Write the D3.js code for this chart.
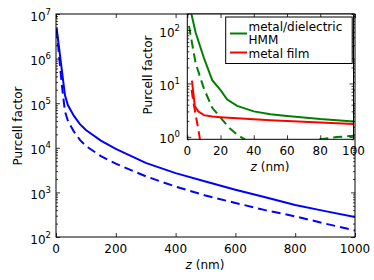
<!DOCTYPE html>
<html><head><meta charset="utf-8">
<script src="https://cdn.jsdelivr.net/npm/d3@7"></script>
<style>body{margin:0;background:#fff}svg{display:block}text{font-family:"DejaVu Sans",sans-serif;fill:#000}</style>
</head><body><svg id="c" width="374" height="280"></svg>
<script>
// ---- main plot data ----
const mainZ = [2, 10, 20, 30, 40, 60, 80, 100, 150, 200, 300, 400, 500, 600, 700, 800, 900, 1000];
const mainSolid = [4.8e6, 1.8e6, 5.2e5, 1.5e5, 9.0e4, 5.2e4, 3.4e4, 2.5e4, 1.45e4, 9.5e3, 4.6e3, 2.7e3, 1.75e3, 1.15e3, 780, 520, 380, 280];
const mainDashed = [4.6e6, 1.2e6, 2.4e5, 6.5e4, 4.0e4, 2.3e4, 1.5e4, 1.1e4, 6.5e3, 4.4e3, 2.3e3, 1.35e3, 850, 580, 400, 290, 200, 140];
const mainXTicks = [0, 200, 400, 600, 800, 1000];
const mainYExp = [2, 3, 4, 5, 6, 7];

// ---- inset data ----
const hmmZ = [1, 5, 10, 15, 20, 24, 30, 40, 50, 60, 70, 80, 90, 100];
const hmmSolid = [320, 90, 30, 11.5, 7.5, 5.0, 3.8, 3.0, 2.65, 2.45, 2.3, 2.15, 2.05, 1.93];
const hmmDashZ = [1, 5, 10, 15, 20, 25, 30, 35, 40, 50, 60, 70, 80, 90, 100];
const hmmDashed = [120, 24, 8, 3.5, 2.3, 1.5, 1.1, 0.88, 0.72, 0.56, 0.56, 0.72, 0.9, 0.99, 1.05];
const filmZ = [2.8, 4.5, 6.5, 10, 15, 20, 30, 40, 50, 60, 70, 80, 90, 100];
const filmSolid = [11.3, 3.8, 3.0, 2.55, 2.4, 2.33, 2.22, 2.13, 2.05, 1.98, 1.92, 1.86, 1.8, 1.74];
const filmDashZ = [2.6, 3.5, 5, 6.7, 7.6, 9];
const filmDashed = [7.6, 4.8, 2.6, 1.35, 0.9, 0.6];
const insetXTicks = [0, 20, 40, 60, 80, 100];
const insetYExp = [0, 1, 2];
const legendLabels = [["metal/dielectric", "HMM"], ["metal film"]];
const colors = {blue: "#0000ff", green: "#008000", red: "#ff0000"};

const svg = d3.select("#c");
const FS = 12;

function minorTicks(lo, hi) {
  const out = [];
  for (let e = Math.floor(Math.log10(lo)); e <= Math.ceil(Math.log10(hi)); e++) {
    for (let k = 1; k <= 9; k++) {
      const v = k * Math.pow(10, e);
      if (v >= lo * 0.999 && v <= hi * 1.001) out.push(v);
    }
  }
  return out;
}

function frame(g, x, y, xTicks, yExp, ydom) {
  const [x0, x1] = x.range();
  const [y1, y0] = y.range();
  const yMaj = yExp.map(e => Math.pow(10, e));
  const yMin = minorTicks(ydom[0], ydom[1]).filter(v => !yMaj.includes(v));
  const clean = s => { s.select(".domain").remove(); s.selectAll("line").attr("stroke", "#000").attr("stroke-width", 0.8); };
  g.append("g").attr("transform", `translate(0,${y1})`).call(d3.axisBottom(x).tickValues(xTicks).tickSize(-4).tickFormat("")).call(clean);
  g.append("g").attr("transform", `translate(0,${y0})`).call(d3.axisTop(x).tickValues(xTicks).tickSize(-4).tickFormat("")).call(clean);
  g.append("g").attr("transform", `translate(${x0},0)`).call(d3.axisLeft(y).tickValues(yMaj).tickSize(-4).tickFormat("")).call(clean);
  g.append("g").attr("transform", `translate(${x0},0)`).call(d3.axisLeft(y).tickValues(yMin).tickSize(-2).tickFormat("")).call(clean);
  g.append("g").attr("transform", `translate(${x1},0)`).call(d3.axisRight(y).tickValues(yMaj).tickSize(-4).tickFormat("")).call(clean);
  g.append("g").attr("transform", `translate(${x1},0)`).call(d3.axisRight(y).tickValues(yMin).tickSize(-2).tickFormat("")).call(clean);
  g.selectAll("g.tick text").remove();
  g.append("rect").attr("x", x0).attr("y", y0).attr("width", x1 - x0).attr("height", y1 - y0)
    .attr("fill", "none").attr("stroke", "#000").attr("stroke-width", 1);
}

function tickLabels(g, x, y, xTicks, yExp, xBase, yRight) {
  const [y1] = y.range();
  g.selectAll(null).data(xTicks).enter().append("text")
    .attr("x", d => x(d)).attr("y", y1 + xBase).attr("text-anchor", "middle")
    .attr("font-size", FS).text(d => d);
  const t = g.selectAll(null).data(yExp).enter().append("text")
    .attr("x", yRight).attr("y", d => y(Math.pow(10, d)) + 6.5).attr("text-anchor", "end")
    .attr("font-size", FS);
  t.append("tspan").text("10");
  t.append("tspan").attr("font-size", 8.5).attr("dy", -6).text(d => d);
}

function zlabel(g, cx, by) {
  const t = g.append("text").attr("x", cx).attr("y", by).attr("text-anchor", "middle").attr("font-size", FS);
  t.append("tspan").attr("font-style", "italic").text("z");
  t.append("tspan").text(" (nm)");
}

function ylabel(g, bx, cy) {
  g.append("text").attr("transform", `translate(${bx},${cy}) rotate(-90)`)
    .attr("text-anchor", "middle").attr("font-size", FS).text("Purcell factor");
}

function drawLine(g, x, y, xs, ys, color, dashed, clipId) {
  const line = d3.line().x(d => x(d[0])).y(d => y(d[1]));
  g.append("path").datum(xs.map((z, i) => [z, ys[i]]))
    .attr("d", line).attr("fill", "none").attr("stroke", color).attr("stroke-width", 2)
    .attr("stroke-dasharray", dashed ? "9,5" : null)
    .attr("clip-path", `url(#${clipId})`);
}

// ---- main ----
const mx = d3.scaleLinear().domain([0, 1000]).range([56, 355]);
const my = d3.scaleLog().domain([1e2, 1e7]).range([237, 14]);
const defs = svg.append("defs");
defs.append("clipPath").attr("id", "cm").append("rect").attr("x", 56).attr("y", 14).attr("width", 299).attr("height", 223);
const gm = svg.append("g");
drawLine(gm, mx, my, mainZ, mainSolid, colors.blue, false, "cm");
drawLine(gm, mx, my, mainZ, mainDashed, colors.blue, true, "cm");
frame(gm, mx, my, mainXTicks, mainYExp, [1e2, 1e7]);
tickLabels(gm, mx, my, mainXTicks, mainYExp, 16, 51);
zlabel(gm, 205, 269);
ylabel(gm, 21.5, 126);

// ---- inset ----
const ix = d3.scaleLinear().domain([0, 100]).range([187.3, 353.5]);
const iy = d3.scaleLog().domain([0.9, 200]).range([139.3, 14]);
defs.append("clipPath").attr("id", "ci").append("rect").attr("x", 187.3).attr("y", 14).attr("width", 166.2).attr("height", 125.3);
const gi = svg.append("g");
gi.append("rect").attr("x", 187.3).attr("y", 14).attr("width", 166.2).attr("height", 125.3).attr("fill", "#fff");
drawLine(gi, ix, iy, hmmZ, hmmSolid, colors.green, false, "ci");
drawLine(gi, ix, iy, hmmDashZ, hmmDashed, colors.green, true, "ci");
drawLine(gi, ix, iy, filmZ, filmSolid, colors.red, false, "ci");
drawLine(gi, ix, iy, filmDashZ, filmDashed, colors.red, true, "ci");
frame(gi, ix, iy, insetXTicks, insetYExp, [0.9, 200]);
tickLabels(gi, ix, iy, insetXTicks, insetYExp, 16, 180);
zlabel(gi, 270, 171);
ylabel(gi, 151.5, 75);

// ---- legend ----
const lg = svg.append("g");
lg.append("rect").attr("x", 225.7).attr("y", 17).attr("width", 126.5).attr("height", 46.5)
  .attr("fill", "#fff").attr("stroke", "#000").attr("stroke-width", 1);
const legendItems = [
  {color: colors.green, lines: legendLabels[0], ly: 33.5, by: 31, gap: 13.3},
  {color: colors.red, lines: legendLabels[1], ly: 52.5, by: 58, gap: 13.3}
];
legendItems.forEach(it => {
  lg.append("line").attr("x1", 230).attr("x2", 247).attr("y1", it.ly).attr("y2", it.ly)
    .attr("stroke", it.color).attr("stroke-width", 2);
  it.lines.forEach((s, i) => {
    lg.append("text").attr("x", 248.5).attr("y", it.by + i * it.gap).attr("font-size", FS).text(s);
  });
});
</script>
</body></html>
